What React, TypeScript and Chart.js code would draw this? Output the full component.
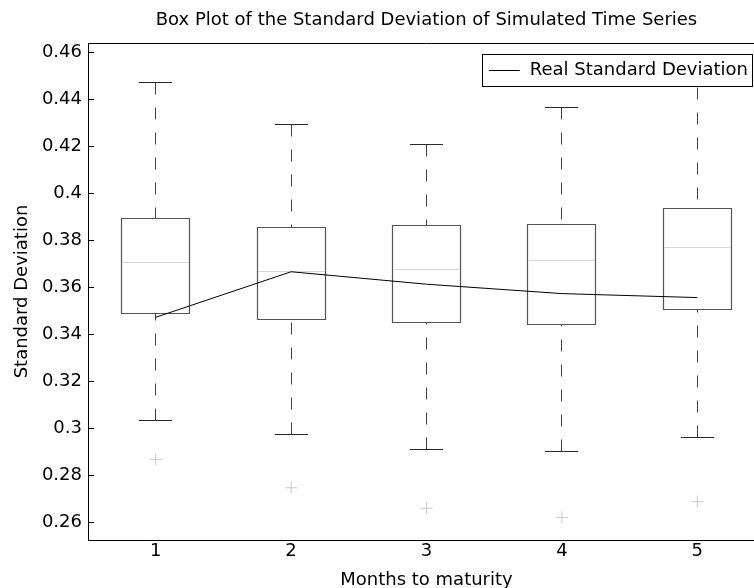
import React, { useEffect, useRef } from "react";
import { Chart, registerables } from "chart.js";

Chart.register(...registerables);

// ---- data ----
const categories = [1, 2, 3, 4, 5];
const upperWhisker = [0.4472, 0.4296, 0.4208, 0.4367, 0.456];
const upperQuartile = [0.3892, 0.3855, 0.3863, 0.3869, 0.3936];
const medians = [0.3706, 0.3666, 0.3676, 0.3716, 0.3771];
const lowerQuartile = [0.349, 0.3465, 0.3449, 0.3441, 0.3507];
const lowerWhisker = [0.3033, 0.2976, 0.2912, 0.2902, 0.2963];
const outliers = [0.2868, 0.2747, 0.266, 0.2621, 0.2688];
const realStd = [0.3473, 0.3667, 0.3614, 0.3574, 0.3557];
const yTickValues = [0.26, 0.28, 0.3, 0.32, 0.34, 0.36, 0.38, 0.4, 0.42, 0.44, 0.46];
const xTickValues = [1, 2, 3, 4, 5];

const TITLE = "Box Plot of the Standard Deviation of Simulated Time Series";
const X_TITLE = "Months to maturity";
const Y_TITLE = "Standard Deviation";
const LEGEND_LABEL = "Real Standard Deviation";

const FONT = "'DejaVu Sans', sans-serif";

const crisp = (v: number) => Math.round(v - 0.5) + 0.5;

const boxPlugin = {
  id: "boxPlot",
  beforeDatasetsDraw(chart: any) {
    const { ctx, scales, chartArea } = chart;
    const x = scales.x;
    const y = scales.y;
    ctx.save();
    ctx.strokeStyle = "#000";
    ctx.lineWidth = 1;
    ctx.beginPath();
    ctx.moveTo(chartArea.left, crisp(chartArea.top));
    ctx.lineTo(chartArea.right, crisp(chartArea.top));
    ctx.moveTo(crisp(chartArea.right), chartArea.top);
    ctx.lineTo(crisp(chartArea.right), chartArea.bottom);
    yTickValues.forEach((v) => {
      const py = crisp(y.getPixelForValue(v));
      ctx.moveTo(chartArea.left, py);
      ctx.lineTo(chartArea.left + 6, py);
    });
    ctx.stroke();

    categories.forEach((c, i) => {
      const cx = crisp(x.getPixelForValue(c));
      const hw = x.getPixelForValue(c + 0.25) - x.getPixelForValue(c);
      const cw = x.getPixelForValue(c + 0.125) - x.getPixelForValue(c);
      const yUp = crisp(y.getPixelForValue(upperWhisker[i]));
      const yQ3 = crisp(y.getPixelForValue(upperQuartile[i]));
      const yMed = crisp(y.getPixelForValue(medians[i]));
      const yQ1 = crisp(y.getPixelForValue(lowerQuartile[i]));
      const yLow = crisp(y.getPixelForValue(lowerWhisker[i]));

      ctx.strokeStyle = "#404040";
      ctx.lineWidth = 1;
      ctx.setLineDash([12, 13]);
      ctx.beginPath();
      ctx.moveTo(cx, yUp);
      ctx.lineTo(cx, yQ3);
      ctx.stroke();
      ctx.beginPath();
      ctx.moveTo(cx, yLow);
      ctx.lineTo(cx, yQ1);
      ctx.stroke();
      ctx.setLineDash([]);

      ctx.strokeStyle = "#282828";
      ctx.beginPath();
      ctx.moveTo(Math.round(cx - cw), yUp);
      ctx.lineTo(Math.round(cx + cw), yUp);
      ctx.moveTo(Math.round(cx - cw), yLow);
      ctx.lineTo(Math.round(cx + cw), yLow);
      ctx.stroke();

      const l = crisp(cx - hw);
      const r = crisp(cx + hw);
      ctx.strokeStyle = "#555555";
      ctx.lineWidth = 1.2;
      ctx.beginPath();
      ctx.rect(l, yQ3, r - l, yQ1 - yQ3);
      ctx.stroke();

      ctx.lineWidth = 1;
      ctx.strokeStyle = "#d8d8d8";
      ctx.beginPath();
      ctx.moveTo(l + 0.6, yMed);
      ctx.lineTo(r - 0.6, yMed);
      ctx.stroke();
    });
    ctx.restore();
  },
  afterDraw(chart: any) {
    const { ctx, chartArea } = chart;
    ctx.save();
    ctx.font = `18px ${FONT}`;
    const tw = ctx.measureText(LEGEND_LABEL).width;
    const right = chartArea.right - 12;
    const top = chartArea.top + 11;
    const h = 32;
    const w = 47 + tw + 5;
    const left = right - w;
    ctx.fillStyle = "#fff";
    ctx.fillRect(left, top, w, h);
    ctx.strokeStyle = "#000";
    ctx.lineWidth = 1;
    ctx.strokeRect(crisp(left), crisp(top), Math.round(w), h);
    const my = top + h / 2;
    ctx.beginPath();
    ctx.moveTo(left + 6, crisp(my));
    ctx.lineTo(left + 37, crisp(my));
    ctx.stroke();
    ctx.fillStyle = "#000";
    ctx.textBaseline = "middle";
    ctx.textAlign = "left";
    ctx.fillText(LEGEND_LABEL, left + 47, my);
    ctx.restore();
  },
};

export default function App() {
  const canvasRef = useRef<HTMLCanvasElement | null>(null);

  useEffect(() => {
    const canvas = canvasRef.current;
    if (!canvas) return;
    const chart = new Chart(canvas, {
      type: "line",
      data: {
        datasets: [
          {
            type: "line",
            label: LEGEND_LABEL,
            data: categories.map((c, i) => ({ x: c, y: realStd[i] })),
            borderColor: "#000",
            borderWidth: 1,
            pointRadius: 0,
            tension: 0,
            fill: false,
          },
          {
            type: "scatter",
            label: "Outliers",
            data: categories.map((c, i) => ({ x: c, y: outliers[i] })),
            pointStyle: "cross",
            pointRadius: 6,
            borderColor: "#c8c8c8",
            backgroundColor: "#c8c8c8",
            borderWidth: 1,
          },
        ],
      } as any,
      options: {
        animation: false,
        responsive: false,
        devicePixelRatio: 1,
        layout: { padding: 0 },
        plugins: {
          legend: { display: false },
          tooltip: { enabled: false },
          title: {
            display: true,
            text: TITLE,
            fullSize: false,
            color: "#000",
            font: { family: FONT, size: 18, weight: "normal", lineHeight: 1.2 },
            padding: { top: 9.7, bottom: 11.7 },
          },
        },
        scales: {
          x: {
            type: "linear",
            min: 0.5,
            max: 5.5,
            afterBuildTicks: (s: any) => {
              s.ticks = xTickValues.map((v) => ({ value: v }));
            },
            afterFit: (s: any) => {
              s.height = 48;
            },
            grid: { display: true, drawOnChartArea: false, drawTicks: false, color: "rgba(0,0,0,0)" },
            border: { display: true, color: "#000", width: 1 },
            ticks: {
              color: "#000",
              font: { family: FONT, size: 18 },
              padding: 1,
              maxRotation: 0,
              autoSkip: false,
              callback: (v: any) => String(v),
            },
            title: {
              display: true,
              text: X_TITLE,
              color: "#000",
              font: { family: FONT, size: 18, lineHeight: 0.9 },
              padding: { top: 0, bottom: 0 },
            },
          },
          y: {
            type: "linear",
            min: 0.25246,
            max: 0.46413,
            afterBuildTicks: (s: any) => {
              s.ticks = yTickValues.map((v) => ({ value: v }));
            },
            afterFit: (s: any) => {
              s.width = 88;
            },
            grid: { display: true, drawOnChartArea: false, drawTicks: false, color: "rgba(0,0,0,0)" },
            border: { display: true, color: "#000", width: 1 },
            ticks: {
              color: "#000",
              font: { family: FONT, size: 18 },
              padding: 6,
              autoSkip: false,
              callback: (v: any) => String(Number(Number(v).toFixed(2))),
            },
            title: {
              display: true,
              text: Y_TITLE,
              color: "#000",
              font: { family: FONT, size: 18, lineHeight: 1.2 },
              padding: { top: 11.2, bottom: 0 },
            },
          },
        },
      } as any,
      plugins: [boxPlugin],
    });
    return () => chart.destroy();
  }, []);

  return (
    <div
      style={{
        position: "fixed",
        left: 0,
        top: 0,
        width: 754,
        height: 588,
        overflow: "hidden",
        background: "#fff",
      }}
    >
      <canvas
        ref={canvasRef}
        width={772}
        height={588}
        style={{ display: "block", width: 772, height: 588 }}
      />
    </div>
  );
}
